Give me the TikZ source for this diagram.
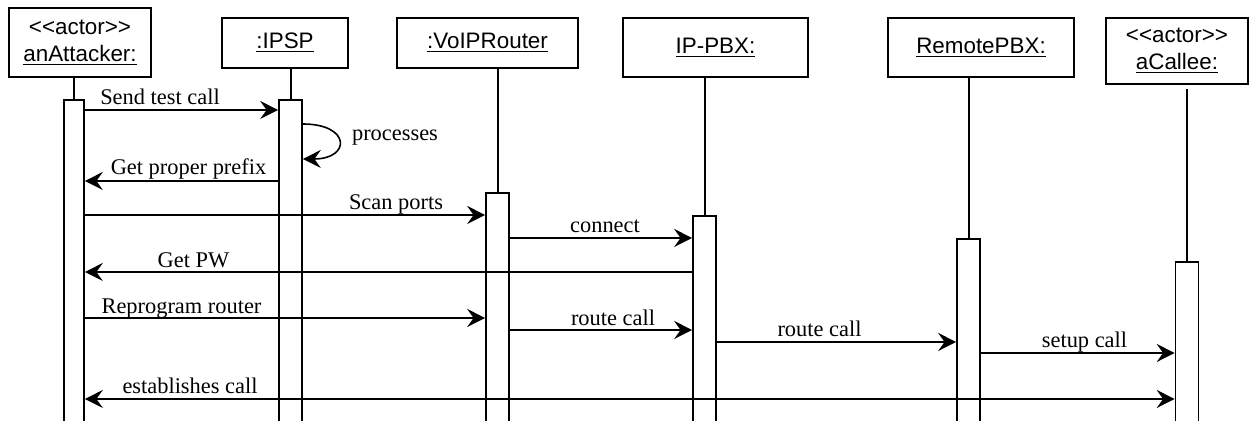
\documentclass[tikz,border=0pt]{standalone}
\usepackage{fontspec}
\setmainfont{Liberation Serif}
\newfontfamily\headfont{Liberation Sans}
\usetikzlibrary{arrows.meta}

\begin{document}
\begin{tikzpicture}[x=0.5pt,y=-0.5pt,
  >={Stealth[length=9pt,width=9pt,inset=3.2pt]},
  head/.style={draw, line width=1pt, fill=white, inner sep=0pt, align=center,
    font=\headfont\fontsize{11.2}{13.5}\selectfont},
  life/.style={line width=1pt},
  act/.style={draw, line width=0.8pt, fill=white, inner sep=0pt,
    minimum width=11.5pt, anchor=north},
  msg/.style={line width=0.8pt, ->},
  lbl/.style={font=\fontsize{11.2}{13.5}\selectfont, anchor=base, inner sep=0pt}
]
\clip (0,0) rectangle (1249,421);
\fill[white] (0,0) rectangle (1249,421);

% object heads
\node[head, minimum width=71pt,   minimum height=34.5pt] (att)    at (80,42.5)    {<<actor>>\\\underline{anAttacker:}};
\node[head, minimum width=63pt,   minimum height=25pt]   (ipsp)   at (285,43)     {\underline{:IPSP}};
\node[head, minimum width=90.5pt, minimum height=25pt]   (voip)   at (487.5,43)   {\underline{:VoIPRouter}};
\node[head, minimum width=92.5pt, minimum height=29.5pt] (pbx)    at (715.5,47.5) {\underline{IP-PBX:}};
\node[head, minimum width=93pt,   minimum height=29.5pt] (rpbx)   at (981,47.5)   {\underline{RemotePBX:}};
\node[head, minimum width=71pt,   minimum height=33pt]   (callee) at (1177,51)    {<<actor>>\\\underline{aCallee:}};

% activation bars (run past the lower edge)
\node[act, minimum width=10pt, minimum height=165.5pt] (b1) at (74,99) {};
\node[act, minimum height=165.5pt] (b2) at (290.5,99)  {};
\node[act, minimum height=119pt]   (b3) at (497.5,192) {};
\node[act, minimum height=107.5pt] (b4) at (704.5,215) {};
\node[act, minimum height=96pt]    (b5) at (968.5,238) {};
\node[act, minimum height=84.5pt]  (b6) at (1187,261)  {};

% lifelines
\draw[life] (b1.north) -- (b1.north |- att.south);
\draw[life] (b2.north) -- (b2.north |- ipsp.south);
\draw[life] (b3.north) -- (b3.north |- voip.south);
\draw[life] (b4.north) -- (b4.north |- pbx.south);
\draw[life] (b5.north) -- (b5.north |- rpbx.south);
\draw[life] (b6.north) -- ([yshift=-2pt]b6.north |- callee.south);

% messages
\draw[msg] (b1.east |- 0,110) -- (b2.west |- 0,110);
\draw[msg] (b2.east |- 0,124) .. controls (351,124) and (351,159) .. (b2.east |- 0,159);
\draw[msg] (b2.west |- 0,181) -- (b1.east |- 0,181);
\draw[msg] (b1.east |- 0,215) -- (b3.west |- 0,215);
\draw[msg] (b3.east |- 0,238) -- (b4.west |- 0,238);
\draw[msg] (b4.west |- 0,272) -- (b1.east |- 0,272);
\draw[msg] (b1.east |- 0,318) -- (b3.west |- 0,318);
\draw[msg] (b3.east |- 0,330) -- (b4.west |- 0,330);
\draw[msg] (b4.east |- 0,342) -- (b5.west |- 0,342);
\draw[msg] (b5.east |- 0,353) -- (b6.west |- 0,353);
\draw[msg, <->] (b1.east |- 0,399) -- (b6.west |- 0,399);

% message labels
\node[lbl] (l1)  at (160,105)    {Send test call};
\node[lbl] (l2)  at (395,141)    {processes};
\node[lbl] (l3)  at (188.5,175)  {Get proper prefix};
\node[lbl] (l4)  at (396,210)    {Scan ports};
\node[lbl] (l5)  at (605,233)    {connect};
\node[lbl] (l6)  at (193.5,268)  {Get PW};
\node[lbl] (l7)  at (181.5,314)  {Reprogram router};
\node[lbl] (l8)  at (613,326)    {route call};
\node[lbl] (l9)  at (819.5,337)  {route call};
\node[lbl] (l10) at (1084.5,348) {setup call};
\node[lbl] (l11) at (190,394)    {establishes call};
\end{tikzpicture}
\end{document}
